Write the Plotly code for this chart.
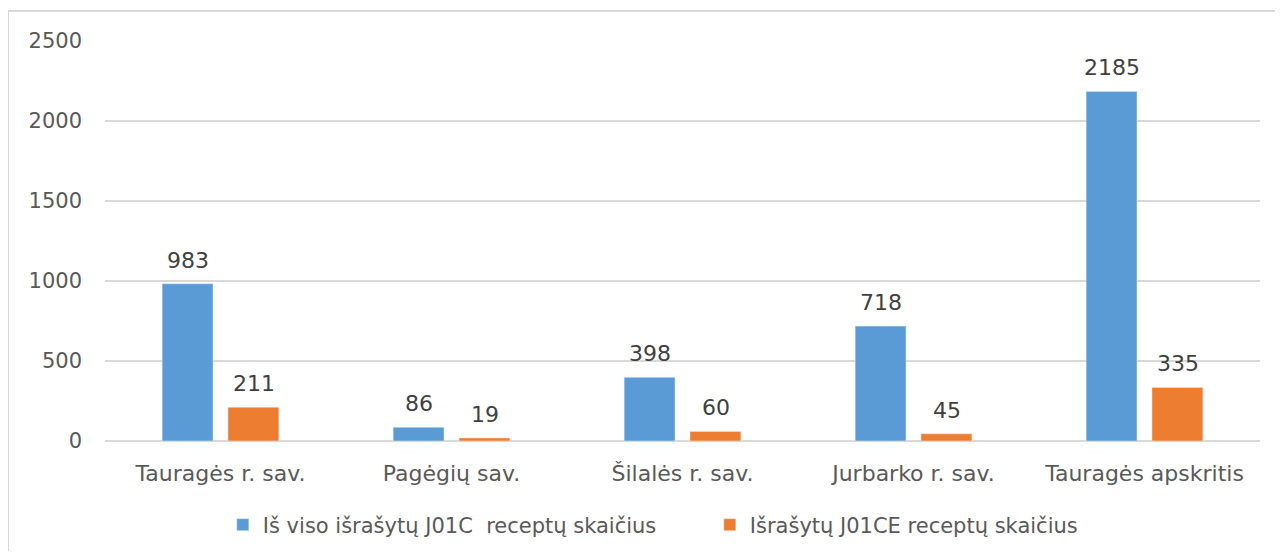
import plotly.graph_objects as go

categories = ["Tauragės r. sav.", "Pagėgių sav.", "Šilalės r. sav.", "Jurbarko r. sav.", "Tauragės apskritis"]
series1_name = "Iš viso išrašytų J01C  receptų skaičius"
series1 = [983, 86, 398, 718, 2185]
series2_name = "Išrašytų J01CE receptų skaičius"
series2 = [211, 19, 60, 45, 335]
y_ticks = [0, 500, 1000, 1500, 2000, 2500]

font_family = "DejaVu Sans, sans-serif"
text_color = "#595959"
label_color = "#404040"
colors = ["#5B9BD5", "#ED7D31"]

fig = go.Figure()
fig.add_trace(go.Bar(x=categories, y=series1, name=series1_name, marker_color=colors[0]))
fig.add_trace(go.Bar(x=categories, y=series2, name=series2_name, marker_color=colors[1]))

annotations = []
for vals, xs in ((series1, -33), (series2, 33)):
    for c, v in zip(categories, vals):
        annotations.append(dict(x=c, y=v, text=str(v), showarrow=False, xref="x", yref="y",
                                xanchor="center", yanchor="bottom", xshift=xs, yshift=9,
                                font=dict(size=22, color=label_color, family=font_family)))

fig.update_layout(
    width=1267, height=543,
    margin=dict(l=97, r=15, t=33, b=110, autoexpand=False),
    paper_bgcolor="white", plot_bgcolor="white",
    barmode="group", bargap=0.43, bargroupgap=0.227,
    font=dict(family=font_family, color=text_color, size=21),
    showlegend=True,
    legend=dict(orientation="h", x=0.102, xanchor="left", y=-0.21, yanchor="middle",
                font=dict(size=21, color=text_color), itemwidth=30, traceorder="normal",
                entrywidth=442, entrywidthmode="pixels"),
    xaxis=dict(showgrid=False, showline=False, ticks="", tickfont=dict(size=22, color=text_color),
               ticklabelstandoff=17, automargin=False),
    yaxis=dict(range=[0, 2500], tickvals=y_ticks, showgrid=True, gridcolor="#D9D9D9", gridwidth=2,
               zeroline=True, zerolinecolor="#D9D9D9", zerolinewidth=2, ticks="",
               tickfont=dict(size=21, color=text_color), ticklabelstandoff=22, automargin=False),
    annotations=annotations,
    shapes=[dict(type="rect", xref="paper", yref="paper", x0=-0.084, x1=1.2, y0=-0.5, y1=1.075,
                 line=dict(color="#D9D9D9", width=2), fillcolor="rgba(0,0,0,0)", layer="above")],
)

fig.write_html("out.html")
